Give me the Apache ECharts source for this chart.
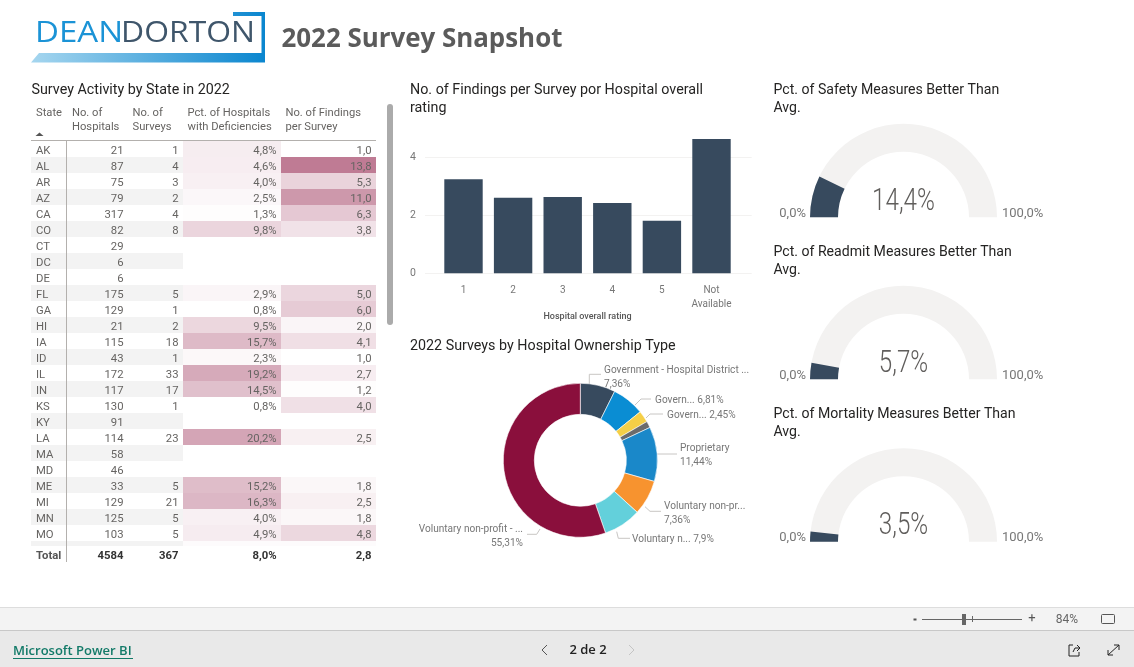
<!DOCTYPE html>
<html><head><meta charset="utf-8">
<style>html,body{margin:0;padding:0;background:#fff;overflow:hidden}#c{width:1134px;height:667px}</style>
<script src="https://cdn.jsdelivr.net/npm/echarts@6/dist/echarts.min.js"></script>
</head><body><div id="c"></div>
<script>
// ---------- data ----------
const states = ['AK','AL','AR','AZ','CA','CO','CT','DC','DE','FL','GA','HI','IA','ID','IL','IN','KS','KY','LA','MA','MD','ME','MI','MN','MO','MS'];
const hospitals = [21,87,75,79,317,82,29,6,6,175,129,21,115,43,172,117,130,91,114,58,46,33,129,125,103,64];
const surveys = [1,4,3,2,4,8,null,null,null,5,1,2,18,1,33,17,1,null,23,null,null,5,21,5,5,5];
const pctDeficient = [4.8,4.6,4.0,2.5,1.3,9.8,null,null,null,2.9,0.8,9.5,15.7,2.3,19.2,14.5,0.8,null,20.2,null,null,15.2,16.3,4.0,4.9,1.6];
const findingsPerSurvey = [1.0,13.8,5.3,11.0,6.3,3.8,null,null,null,5.0,6.0,2.0,4.1,1.0,2.7,1.2,4.0,null,2.5,null,null,1.8,2.5,1.8,4.8,1.4];
const totals = ['Total','4584','367','8,0%','2,8'];
const ratingCategories = ['1','2','3','4','5','Not\nAvailable'];
const ratingFindings = [3.24,2.6,2.63,2.42,1.81,4.63];
const ownershipLabels = ['Government - Hospital District ...\n7,36%','Govern... 6,81%','Govern... 2,45%','','Proprietary\n11,44%','Voluntary non-pr...\n7,36%','Voluntary n... 7,9%','Voluntary non-profit - ...\n55,31%'];
const ownershipValues = [7.36,6.81,2.45,1.36,11.44,7.36,7.9,55.31];
const gaugeValues = [14.4,5.7,3.5];
const gaugeTitles = ['Pct. of Safety Measures Better Than\nAvg.','Pct. of Readmit Measures Better Than\nAvg.','Pct. of Mortality Measures Better Than\nAvg.'];

// ---------- layout & style ----------
const FONT = 'Roboto, "Noto Sans", sans-serif';
const NAVY = '#374a5e', TXT = '#666462', TITLE = '#252423';
const colEdges = [0,35,97,152,250,345];            // px from table left
const ownershipColors = ['#374a5e','#0a8dd3','#f5cf47','#6b6b6b','#1a88c9','#f7932f','#63d0db','#8a0f3c'];
const labelPos = [
 {x:604,y:377,a:'left',p:[[589.3,384],[589.3,374.3],[601,374.3]]},
 {x:655,y:400.5,a:'left',p:[[635,405],[641,399],[651,399]]},
 {x:667,y:415,a:'left',p:[[646,418],[650,414],[663,414]]},
 null,
 {x:680,y:455.5,a:'left',p:[[657,454],[677,454]]},
 {x:664,y:513.5,a:'left',p:[[645,506.7],[650,511.3],[661,511.3]]},
 {x:632,y:539,a:'left',p:[[616.7,531.7],[618.3,538.3],[630,538.3]]},
 {x:523,y:536.5,a:'right',p:[[540,529],[536.7,534.3],[527,534.3]]}
];

function T(text,x,y,size,o){o=o||{};return {type:'text',silent:true,z:o.z||20,style:{text:text,x:x,y:y,
  font:(o.weight||'normal')+' '+size+'px '+(o.family||FONT),fill:o.fill||TXT,
  textAlign:o.align||'left',textVerticalAlign:'middle',lineHeight:o.lh||undefined}};}
function S(text,x,y,size,sx,weight,family,fill,align){return {type:'text',silent:true,z:20,x:x,y:y,scaleX:sx,
  style:{text:text,x:0,y:0,font:weight+' '+size+'px '+family,fill:fill,textAlign:align,textVerticalAlign:'middle'}};}
function R(x,y,w,h,fill,r){return {type:'rect',silent:true,z:10,shape:{x:x,y:y,width:w,height:h,r:r||0},style:{fill:fill}};}
function PL(points,stroke,w){return {type:'polyline',silent:true,z:20,shape:{points:points},style:{stroke:stroke,lineWidth:w||1,fill:null}};}

function heat(v,col){
  if(v==null) return '#fff';
  const t = col===3 ? Math.max(0,(v-0.8)/52) : Math.max(0,(v-1)/23.3);
  const mix=(a)=>Math.round(255+(a-255)*t);
  return 'rgb('+mix(139)+','+mix(15)+','+mix(60)+')';
}
const fmt1=v=>v==null?'':v.toFixed(1).replace('.',',');

// table cells: [column,row]
const columns=[states,hospitals,surveys,pctDeficient,findingsPerSurvey];
const cellData=[];
states.forEach((s,r)=>columns.forEach((c,k)=>cellData.push([k,r])));

function renderCell(params,api){
  const k=api.value(0), r=api.value(1), v=columns[k][r];
  const p0=api.coord([colEdges[k],r]), p1=api.coord([colEdges[k+1],r+1]);
  const fill = k<3 ? (r%2? '#f3f3f3':'#fff') : heat(v,k);
  let text = k<3 ? (v==null?'':String(v)) : (k===3&&v!=null? fmt1(v)+'%':fmt1(v));
  return {type:'group',children:[
    {type:'rect',shape:{x:p0[0],y:p0[1],width:p1[0]-p0[0],height:p1[1]-p0[1]},style:{fill:fill}},
    {type:'text',style:{text:text,x:k===0?p0[0]+5:p1[0]-4.5,y:(p0[1]+p1[1])/2+2,
      font:'normal 11.3px '+FONT,fill:TXT,textAlign:k===0?'left':'right',textVerticalAlign:'middle'}}
  ]};
}

// ---------- static graphics ----------
const tableLeft=31;
const g=[];
// logo
g.push({type:'polygon',silent:true,z:5,shape:{points:[[233,12],[265,12],[265,62.5],[31,62.5],[39,53],[261.5,53],[261.5,16],[233,16]]},
  style:{fill:new echarts.graphic.LinearGradient(0,0,1,0,[{offset:0,color:'#a6d6ef'},{offset:1,color:'#0a86cf'}])}});
g.push(S('DEAN',35,33.5,29,1.14,'normal','"Open Sans", Lato, sans-serif','#1b93d6','left'));
g.push(S('DORTON',121,33.5,29,1.1,'normal','"Open Sans", Lato, sans-serif','#3f566b','left'));
g.push(T('2022 Survey Snapshot',281.5,39.5,25.9,{weight:'bold',family:'"Open Sans", sans-serif',fill:'#5b5b5b'}));
// titles
g.push(T('Survey Activity by State in 2022',31.5,90.5,14.3,{fill:TITLE}));
g.push(T('No. of Findings per Survey por Hospital overall\nrating',410,99.5,14.3,{fill:TITLE,lh:18}));
g.push(T('2022 Surveys by Hospital Ownership Type',410,346.5,14.3,{fill:TITLE}));
const gaugeBase=[217.3,379.3,541.7];
gaugeTitles.forEach((t,i)=>{
  g.push(T(t,773.5,gaugeBase[i]-118,14.1,{fill:TITLE,lh:18}));
  g.push(T('0,0%',806,gaugeBase[i]-4,13,{align:'right',fill:'#777'}));
  g.push(T('100,0%',1002,gaugeBase[i]-4,13,{fill:'#777'}));
  // gauge read-out, condensed like the reference's light DIN
  g.push(S(fmt1(gaugeValues[i])+'%',903.5,gaugeBase[i]-15,31,0.78,'300',FONT,'#605e5c','center'));
});
// table header
[['State',36],['No. of\nHospitals',72],['No. of\nSurveys',132.5],['Pct. of Hospitals\nwith Deficiencies',187.5],['No. of Findings\nper Survey',285.5]].forEach(h=>{
  g.push(T(h[0],h[1],h[0]==='State'?113:120,11.2,{lh:14,fill:'#666462'}));
});
g.push({type:'polygon',silent:true,z:20,shape:{points:[[35.5,136],[39.5,132.5],[43.5,136]]},style:{fill:'#555'}});
g.push(R(tableLeft,140,345,1,'#b3b0ad'));
g.push(R(66,140,1,422,'#b3b0ad'));
totals.forEach((t,i)=>{
  const x=tableLeft+(i===0?colEdges[0]+5:colEdges[i+1]-4.5);
  g.push(T(t,x,556,11.3,{weight:'bold',align:i===0?'left':'right',fill:i===0?'#555':'#333'}));
});
g.push(R(387,104,6,221,'#ababab',3));
// footer
g.push(R(0,607,1134,60,'#e9e9e9'));
g.push(R(0,607,1134,23,'#f3f3f3'));
g.push(R(0,607,1134,1,'#dddddd'));
g.push(R(0,630,1134,1,'#c8c8c8'));
g.push(R(913.5,618.5,3,2,'#555'));
g.push(R(922,619,100,1,'#666'));
g.push(R(962,614,4,11,'#666'));
g.push(R(972,616,1,6,'#666'));
g.push(T('+',1032,618.5,13,{align:'center',fill:'#555'}));
g.push(T('84%',1067,619.5,12,{align:'center',fill:'#666'}));
g.push({type:'rect',silent:true,z:20,shape:{x:1101.5,y:614.5,width:13,height:9,r:1},style:{stroke:'#555',fill:null}});
g.push(T('Microsoft Power BI',13,651.5,13,{weight:'600',family:'"Open Sans", sans-serif',fill:'#127a68'}));
g.push(R(13,658,120,1,'#127a68'));
g.push(T('2 de 2',588,650.5,13,{weight:'600',align:'center',family:'"Open Sans", sans-serif',fill:'#222'}));
g.push(PL([[547,645],[542,650],[547,655]],'#555'));
g.push(PL([[629,645],[634,650],[629,655]],'#c4c4c4'));
g.push(PL([[1073,645],[1069,645],[1069,656],[1079,656],[1079,652]],'#222'));
g.push(PL([[1073,652],[1075,648],[1080,648],[1077,645]],'#222'));
g.push(PL([[1080,648],[1077,651]],'#222'));
g.push(PL([[1108,655],[1119,645]],'#222'));
g.push(PL([[1114,645],[1119,645],[1119,650]],'#222'));
g.push(PL([[1108,650],[1108,655],[1113,655]],'#222'));

// ---------- option ----------
const option={
  animation:false,
  backgroundColor:'#fff',
  textStyle:{fontFamily:FONT},
  graphic:{elements:g},
  grid:[
    {left:tableLeft,top:141,width:345,height:405,containLabel:false},
    {left:438.7,top:134,width:297.6,height:139.3},
    {left:425,top:134,width:326.7,height:139.3}
  ],
  xAxis:[
    {gridIndex:0,type:'value',min:0,max:345,show:false},
    {gridIndex:1,type:'category',data:ratingCategories,axisLine:{show:false},axisTick:{show:false},
     axisLabel:{interval:0,color:'#777',fontSize:10,lineHeight:14,margin:10},
     name:'Hospital overall rating',nameLocation:'middle',nameGap:36,nameTextStyle:{fontSize:9,fontWeight:500,color:'#555'}},
    {gridIndex:2,type:'value',min:0,max:1,show:false}
  ],
  yAxis:[
    {gridIndex:0,type:'value',min:0,max:25.3125,inverse:true,show:false},
    {gridIndex:1,type:'value',min:0,max:4.8,interval:2,show:false},
    {gridIndex:2,type:'value',min:0,max:4.8,interval:2,axisLine:{show:false},axisTick:{show:false},
     axisLabel:{color:'#777',fontSize:10.5,margin:9,showMaxLabel:false},
     splitLine:{show:true,showMaxLine:false,lineStyle:{color:'#f3f2f1'}}}
  ],
  series:[
    {type:'custom',name:'Survey Activity',xAxisIndex:0,yAxisIndex:0,coordinateSystem:'cartesian2d',clip:true,
     renderItem:renderCell,data:cellData,silent:true,z:2},
    {type:'line',xAxisIndex:2,yAxisIndex:2,data:[],silent:true},
    {type:'bar',name:'Findings',xAxisIndex:1,yAxisIndex:1,data:ratingFindings,barWidth:38.4,itemStyle:{color:NAVY},silent:true,z:4},
    {type:'pie',name:'Ownership',center:[580.3,460.3],radius:[46,77],startAngle:90,silent:true,
     data:ownershipValues.map((v,i)=>({value:v,name:ownershipLabels[i]||'Other',
       label:{show:i!==3},labelLine:{show:i!==3}})),
     color:ownershipColors,itemStyle:{borderColor:'#fff',borderWidth:0.6},
     label:{formatter:p=>ownershipLabels[p.dataIndex],fontSize:10.1,color:'#777',lineHeight:14,fontFamily:FONT},
     labelLine:{show:true,lineStyle:{color:'#c8c6c4',width:1}},
     labelLayout:function(p){const L=labelPos[p.dataIndex];if(!L)return {};
       return {x:L.x,y:L.y,align:L.a,verticalAlign:'middle',labelLinePoints:L.p};}}
  ].concat(gaugeValues.map((v,i)=>({
    type:'gauge',name:gaugeTitles[i],center:[903.5,gaugeBase[i]],radius:93.5,startAngle:180,endAngle:0,min:0,max:100,
    axisLine:{show:true,lineStyle:{width:28,color:[[1,'#f3f2f1']]}},
    progress:{show:true,width:28,itemStyle:{color:NAVY}},
    pointer:{show:false},axisTick:{show:false},splitLine:{show:false},axisLabel:{show:false},anchor:{show:false},title:{show:false},
    detail:{show:false},
    data:[{value:v}],silent:true
  })))
};
const chart=echarts.init(document.getElementById('c'),null,{renderer:'canvas'});
chart.setOption(option);
</script></body></html>
